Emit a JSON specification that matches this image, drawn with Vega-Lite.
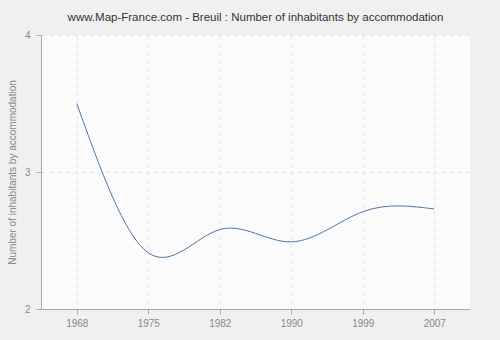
{
  "$schema": "https://vega.github.io/schema/vega-lite/v6.json",
  "width": 429,
  "height": 274,
  "autosize": {"type": "none"},
  "padding": {"left": 41, "top": 35, "right": 30, "bottom": 31},
  "background": "#f0f0f0",
  "title": {
    "text": "www.Map-France.com - Breuil : Number of inhabitants by accommodation",
    "font": "Liberation Sans",
    "fontSize": 11.5,
    "fontWeight": "normal",
    "color": "#333333",
    "offset": 7
  },
  "config": {
    "view": {"fill": "#fbfbfb", "stroke": null},
    "axis": {
      "labelFont": "Liberation Sans",
      "labelFontSize": 10,
      "labelColor": "#888888",
      "titleFont": "Liberation Sans",
      "titleFontSize": 10,
      "titleFontWeight": "normal",
      "titleColor": "#888888",
      "domain": true,
      "domainColor": "#aaaaaa",
      "tickColor": "#aaaaaa",
      "gridColor": "#e4e4e4",
      "gridDash": [4, 4]
    }
  },
  "data": {
    "values": [
      {"year": "1968", "value": 3.5},
      {"year": "1975", "value": 2.41},
      {"year": "1982", "value": 2.58},
      {"year": "1990", "value": 2.49},
      {"year": "1999", "value": 2.71},
      {"year": "2007", "value": 2.73}
    ]
  },
  "encoding": {
    "x": {
      "field": "year",
      "type": "ordinal",
      "scale": {"type": "point", "padding": 0.5},
      "axis": {"title": null, "labelAngle": 0, "grid": true, "tickSize": 5, "labelPadding": 4}
    },
    "y": {
      "field": "value",
      "type": "quantitative",
      "scale": {"domain": [2, 4], "nice": false, "zero": false},
      "axis": {"title": "Number of inhabitants by accommodation", "tickCount": 2, "format": "d", "tickSize": 5, "labelPadding": 6, "titlePadding": 7, "grid": true, "domain": true}
    }
  },
  "layer": [
    {
      "data": {"values": [{"band": "upper"}]},
      "mark": {"type": "rect", "color": "#000000", "opacity": 0.025},
      "encoding": {
        "x": null,
        "y": {"datum": 4, "type": "quantitative"},
        "y2": {"datum": 3}
      }
    },
    {
      "mark": {"type": "line", "interpolate": "natural", "color": "#4a76a8", "strokeWidth": 1}
    }
  ]
}
